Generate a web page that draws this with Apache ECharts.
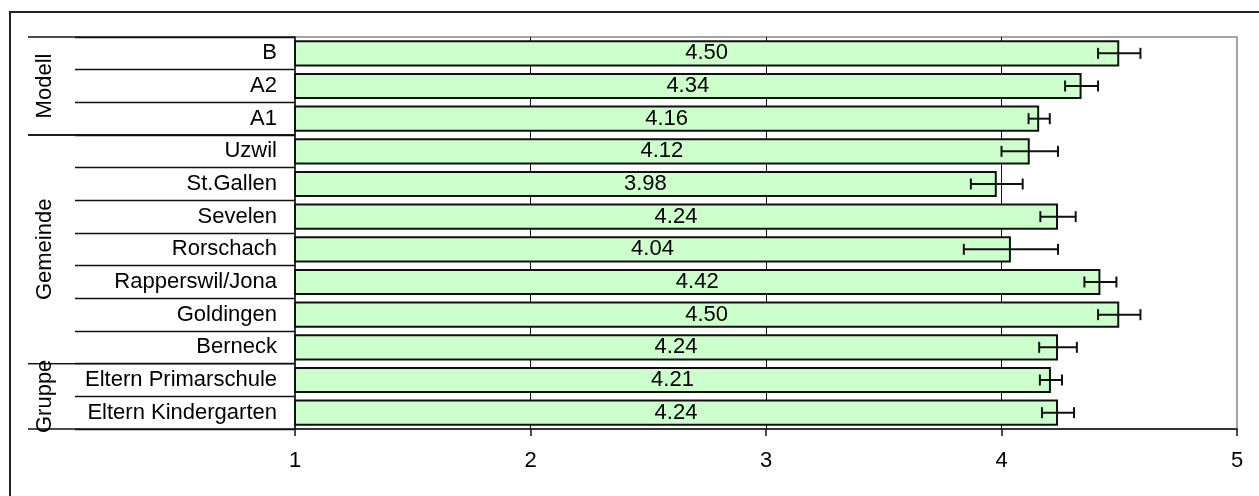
<!DOCTYPE html>
<html>
<head>
<meta charset="utf-8">
<script src="https://cdn.jsdelivr.net/npm/echarts@6/dist/echarts.min.js"></script>
<style>
html,body{margin:0;padding:0;background:#fff;}
#chart{width:1259px;height:496px;}
</style>
</head>
<body>
<div id="chart"></div>
<script>
var categories = ['B','A2','A1','Uzwil','St.Gallen','Sevelen','Rorschach','Rapperswil/Jona','Goldingen','Berneck','Eltern Primarschule','Eltern Kindergarten'];
var means = [4.50, 4.34, 4.16, 4.12, 3.98, 4.24, 4.04, 4.42, 4.50, 4.24, 4.21, 4.24];
var errors = [0.09, 0.07, 0.045, 0.12, 0.11, 0.075, 0.20, 0.068, 0.09, 0.08, 0.047, 0.068];
var groupNames = ['Modell','Gemeinde','Gruppe'];
var groupStart = [0, 3, 10];
var groupEnd = [2, 9, 11];
var xTicks = [1, 2, 3, 4, 5];

var FONT = '"Liberation Sans", Arial, sans-serif';
var FS = 22;
var chart = echarts.init(document.getElementById('chart'), null, {renderer:'canvas'});

var errData = means.map(function(m, i){ return [m - errors[i], m + errors[i], i]; });
var groupData = groupNames.map(function(n, i){ return [groupStart[i], groupEnd[i], n]; });

var option = {
  animation: false,
  backgroundColor: '#fff',
  graphic: [{
    type: 'rect', shape: {x: 10, y: 12, width: 1400, height: 700},
    style: {fill: 'none', stroke: '#222', lineWidth: 2}, z: 100
  }],
  grid: {left: 295, right: 22, top: 37, bottom: 67, show: true, borderColor: '#888', borderWidth: 1.5, backgroundColor: 'transparent'},
  xAxis: {
    type: 'value', min: 1, max: 5, interval: 1,
    axisLine: {show: true, lineStyle: {color: '#111', width: 1.5}},
    axisTick: {show: true, length: 7, lineStyle: {color: '#111', width: 1.5}},
    axisLabel: {margin: 21, fontSize: FS, color: '#000', fontFamily: FONT,
      formatter: function(v){ return xTicks.indexOf(v) >= 0 ? String(v) : ''; }},
    splitLine: {show: true, showMinLine: false, showMaxLine: false, lineStyle: {color: '#111', width: 1}}
  },
  yAxis: {
    type: 'category', data: categories, inverse: true,
    axisLine: {show: true, lineStyle: {color: '#111', width: 1.5}},
    axisTick: {show: true, length: 220, interval: 0, lineStyle: {color: '#111', width: 1.3}},
    axisLabel: {margin: 18, fontSize: FS, color: '#000', fontFamily: FONT, interval: 0},
    splitLine: {show: false}
  },
  series: [
    {
      type: 'bar', data: means, barCategoryGap: '20%',
      itemStyle: {color: '#CCFFCC', borderColor: '#111', borderWidth: 2},
      label: {show: true, position: 'inside', color: '#000', fontSize: FS, fontFamily: FONT,
        formatter: function(p){ return p.value.toFixed(2); }},
      z: 3
    },
    {
      type: 'custom', data: errData, z: 5,
      encode: {x: [0, 1], y: 2},
      renderItem: function(params, api){
        var p1 = api.coord([api.value(0), api.value(2)]);
        var p2 = api.coord([api.value(1), api.value(2)]);
        var h = 5.5;
        var st = {stroke: '#111', lineWidth: 2};
        return {type: 'group', children: [
          {type: 'line', shape: {x1: p1[0], y1: p1[1], x2: p2[0], y2: p2[1]}, style: st},
          {type: 'line', shape: {x1: p1[0], y1: p1[1]-h, x2: p1[0], y2: p1[1]+h}, style: st},
          {type: 'line', shape: {x1: p2[0], y1: p2[1]-h, x2: p2[0], y2: p2[1]+h}, style: st}
        ]};
      }
    },
    {
      type: 'custom', data: groupData, z: 6, clip: false, silent: true,
      encode: {y: 0},
      renderItem: function(params, api){
        var rowH = api.size([0, 1])[1];
        var top = api.coord([1, api.value(0)]);
        var bot = api.coord([1, api.value(1)]);
        var xr = top[0];
        var xl = xr - 267;
        var yt = top[1] - rowH / 2;
        var yb = bot[1] + rowH / 2;
        var st = {stroke: '#111', lineWidth: 1.3};
        return {type: 'group', children: [
          {type: 'line', shape: {x1: xl, y1: yt, x2: xr, y2: yt}, style: st},
          {type: 'line', shape: {x1: xl, y1: yb, x2: xr, y2: yb}, style: st},
          {type: 'text', x: xl + 17, y: (yt + yb) / 2, rotation: Math.PI / 2,
            style: {text: api.value(2), fontSize: FS, fontFamily: FONT, fill: '#000',
              align: 'center', verticalAlign: 'middle'}}
        ]};
      }
    }
  ]
};
chart.setOption(option);
</script>
</body>
</html>
